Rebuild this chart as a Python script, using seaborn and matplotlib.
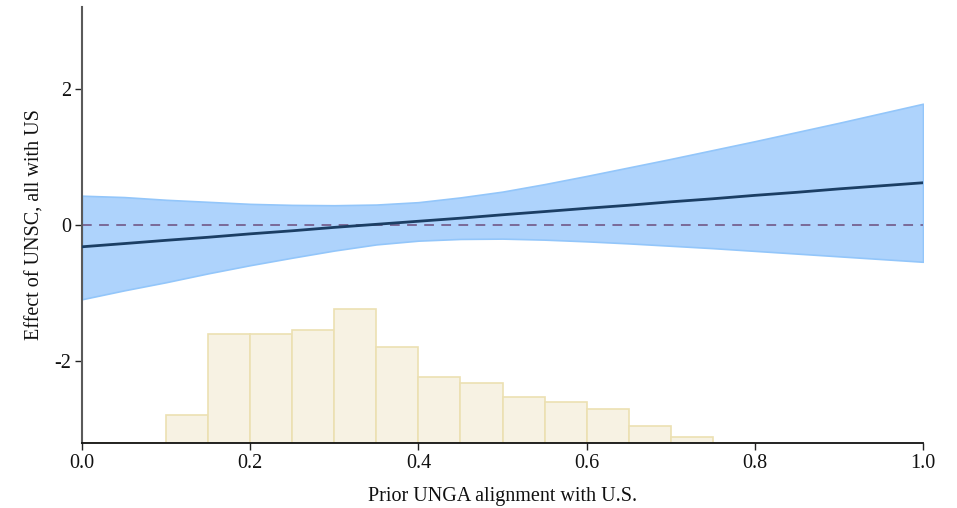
import numpy as np
import pandas as pd
import matplotlib
matplotlib.use("Agg")
import matplotlib.pyplot as plt
import seaborn as sns

# ---- data ----
x_grid = [0.00, 0.05, 0.10, 0.15, 0.20, 0.25, 0.30, 0.35, 0.40, 0.45, 0.50,
          0.55, 0.60, 0.65, 0.70, 0.75, 0.80, 0.85, 0.90, 0.95, 1.00]
effect = [-0.32, -0.273, -0.225, -0.18, -0.13, -0.085, -0.035, 0.01, 0.055, 0.10, 0.15,
          0.197, 0.245, 0.29, 0.34, 0.385, 0.435, 0.48, 0.53, 0.575, 0.62]
ci_upper = [0.43, 0.41, 0.37, 0.34, 0.31, 0.295, 0.29, 0.30, 0.335, 0.405, 0.49,
            0.60, 0.72, 0.845, 0.97, 1.10, 1.23, 1.365, 1.50, 1.64, 1.78]
ci_lower = [-1.09, -0.96, -0.84, -0.71, -0.59, -0.48, -0.375, -0.285, -0.23, -0.205, -0.20,
            -0.215, -0.24, -0.27, -0.305, -0.34, -0.38, -0.42, -0.46, -0.50, -0.54]

bin_edges = [0.0, 0.05, 0.10, 0.15, 0.20, 0.25, 0.30, 0.35, 0.40, 0.45,
             0.50, 0.55, 0.60, 0.65, 0.70, 0.75, 0.80]
hist_share = [0.0, 0.0, 3.2, 12.7, 12.7, 13.1, 15.6, 11.2, 7.7, 7.0,
              5.4, 4.8, 4.0, 2.0, 0.7, 0.0]

x_ticks = [0.0, 0.2, 0.4, 0.6, 0.8, 1.0]
x_ticklabels = ["0.0", "0.2", "0.4", "0.6", "0.8", "1.0"]
y_ticks = [-2, 0, 2]
y_ticklabels = ["-2", "0", "2"]

x_label = "Prior UNGA alignment with U.S."
y_label = "Effect of UNSC, all with US"

# ---- style ----
sns.set_theme(style="white")
plt.rcParams["font.family"] = ["Liberation Serif", "DejaVu Serif"]

fig = plt.figure(figsize=(9.57, 5.08), dpi=100)
ax = fig.add_axes([0.0857, 0.128, 0.8788, 0.8582])
ax2 = ax.twinx()

# histogram on the twin axis (behind)
centers = [(bin_edges[i] + bin_edges[i + 1]) / 2 for i in range(len(hist_share))]
hdf = pd.DataFrame({"x": centers, "w": hist_share})
sns.histplot(data=hdf, x="x", weights="w", bins=bin_edges, ax=ax2,
             color="#f7f2e3", edgecolor="#ece0b2", linewidth=1.2, alpha=1.0)
ax2.set_ylim(0, max(hist_share) * 436 / 134)
ax2.set_axis_off()

ax.set_zorder(ax2.get_zorder() + 1)
ax.patch.set_visible(False)

df = pd.DataFrame({"x": x_grid, "effect": effect,
                   "lo": ci_lower, "hi": ci_upper})

ax.fill_between(df["x"], df["lo"], df["hi"], facecolor="#aed3fc",
                edgecolor="#93c6fa", linewidth=1.2, zorder=1)
ax.axhline(0, color="#7a6a98", linestyle=(0, (5, 3.8)), linewidth=1.4, zorder=2)
sns.lineplot(data=df, x="x", y="effect", ax=ax, color="#1b3e64",
             linewidth=2.0, zorder=3)

ax.set_xlim(0, 1.0)
ax.set_ylim(-3.2, 3.2)
ax.set_xticks(x_ticks)
ax.set_xticklabels(x_ticklabels, fontsize=14.5, color="#111111")
ax.set_yticks(y_ticks)
ax.set_yticklabels(y_ticklabels, fontsize=14.5, color="#111111")
ax.set_xlabel(x_label, fontsize=14.5, color="#111111", labelpad=10)
ax.set_ylabel(y_label, fontsize=14.5, color="#111111", labelpad=7)

for s in ["top", "right"]:
    ax.spines[s].set_visible(False)
ax.spines["left"].set_color("#5a5a5a")
ax.spines["left"].set_linewidth(1.5)
ax.spines["bottom"].set_color("#111111")
ax.spines["bottom"].set_linewidth(1.3)
ax.tick_params(axis="both", direction="out", length=5, width=1.0,
               color="#222222", left=True, bottom=True, pad=3)

fig.savefig("out.png", dpi=100)
